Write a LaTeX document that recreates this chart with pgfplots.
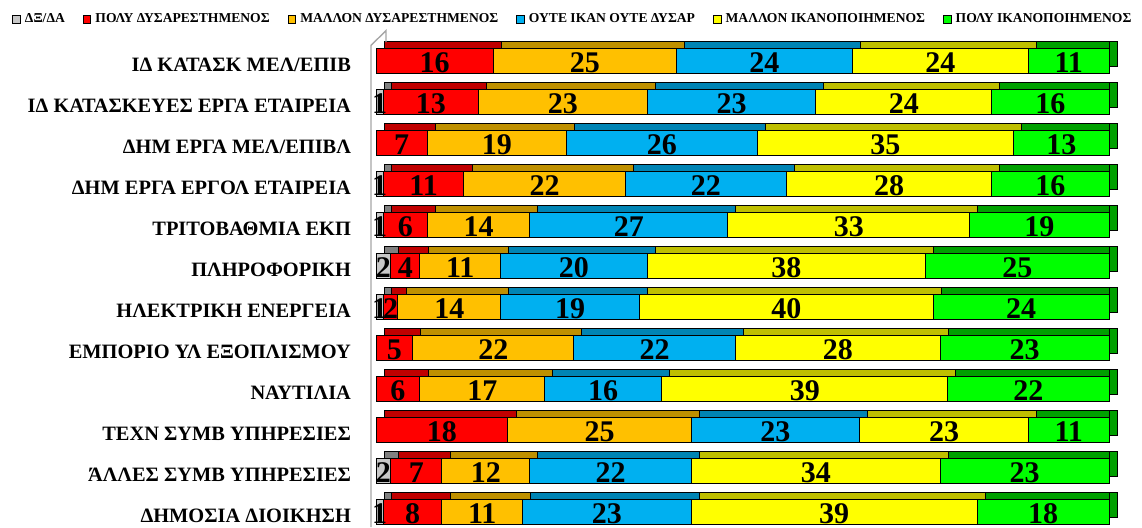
\documentclass[border=0pt]{standalone}
\usepackage{fontspec}
\setmainfont{Liberation Serif}
\usepackage{pgfplots}
\usepackage{pgfplotstable}
\pgfplotsset{compat=1.18}

% front / top colours
\definecolor{cdk}{HTML}{C8C8C8}\definecolor{cdkT}{HTML}{808080}
\definecolor{cp1}{HTML}{FF0000}\definecolor{cp1T}{HTML}{C00000}
\definecolor{cp2}{HTML}{FFC000}\definecolor{cp2T}{HTML}{BF9000}
\definecolor{cp3}{HTML}{00B0F0}\definecolor{cp3T}{HTML}{0084B4}
\definecolor{cp4}{HTML}{FFFF00}\definecolor{cp4T}{HTML}{BFBF00}
\definecolor{cp5}{HTML}{00FF00}\definecolor{cp5T}{HTML}{00A000}

% dk = ΔΞ/ΔΑ, p1..p5 = πολύ δυσαρ. ... πολύ ικανοπ.
\pgfplotstableread{
y  dk p1 p2 p3 p4 p5
12 0  16 25 24 24 11
11 1  13 23 23 24 16
10 0  7  19 26 35 13
9  1  11 22 22 28 16
8  1  6  14 27 33 19
7  2  4  11 20 38 25
6  1  2  14 19 40 24
5  0  5  22 22 28 23
4  0  6  17 16 39 22
3  0  18 25 23 23 11
2  2  7  12 22 34 23
1  1  8  11 23 39 18
}\data

\pgfplotsset{
  base/.style={
    at={(188pt,0pt)}, anchor=south west,
    x=3.665pt, y=20.48pt,
    xmin=0, xmax=100, ymin=0.6216, ymax=13.489,
    axis line style={draw=none}, tick style={draw=none},
    xtick=\empty, ytick=\empty, clip=false,
  },
  seg/.style={draw=black, line width=0.5pt, fill=#1},
  num/.style={draw=none, mark=none, forget plot, point meta=explicit,
    /pgf/number format/assume math mode=true,
    nodes near coords={\pgfmathfloatifflags{\pgfplotspointmeta}{0}{}{\pgfmathprintnumber{\pgfplotspointmeta}}},
    every node near coord/.append style={anchor=center, yshift=-1pt, inner sep=0pt,
      font=\fontsize{15}{15}\selectfont\bfseries}},
  legsq/.style={legend image code/.code={\draw[draw=black, line width=0.5pt, fill=#1] (0pt,-1.6pt) rectangle (3.8pt,2.2pt);}},
}

\begin{document}
\begin{tikzpicture}
\useasboundingbox (0,0) rectangle (571pt,263.5pt);

% top faces
\begin{axis}[base, xbar stacked, bar width=3.5pt, bar shift=8pt]
\addplot[draw=none, fill=none] table[x expr=1.1, y=y]{\data};
\addplot[seg=cdkT] table[x=dk, y=y]{\data};
\addplot[seg=cp1T] table[x=p1, y=y]{\data};
\addplot[seg=cp2T] table[x=p2, y=y]{\data};
\addplot[seg=cp3T] table[x=p3, y=y]{\data};
\addplot[seg=cp4T] table[x=p4, y=y]{\data};
\addplot[seg=cp5T] table[x=p5, y=y]{\data};
\end{axis}

% right side faces
\begin{axis}[base, xbar stacked, bar width=12.5pt, bar shift=3.5pt]
\addplot[draw=none, fill=none] table[x expr=100, y=y]{\data};
\addplot[seg=cp5T] table[x expr=1.1, y=y]{\data};
\end{axis}

% front faces
\begin{axis}[base, xbar stacked, bar width=12.5pt]
\addplot[seg=cdk] table[x=dk, y=y]{\data};
\addplot[seg=cp1] table[x=p1, y=y]{\data};
\addplot[seg=cp2] table[x=p2, y=y]{\data};
\addplot[seg=cp3] table[x=p3, y=y]{\data};
\addplot[seg=cp4] table[x=p4, y=y]{\data};
\addplot[seg=cp5] table[x=p5, y=y]{\data};
\end{axis}

% wall, values, category names, legend
\begin{axis}[base,
  ytick={12,11,10,9,8,7,6,5,4,3,2,1},
  yticklabels={ΙΔ ΚΑΤΑΣΚ ΜΕΛ/ΕΠΙΒ, ΙΔ ΚΑΤΑΣΚΕΥΕΣ ΕΡΓΑ ΕΤΑΙΡΕΙΑ, ΔΗΜ ΕΡΓΑ ΜΕΛ/ΕΠΙΒΛ,
    ΔΗΜ ΕΡΓΑ ΕΡΓΟΛ ΕΤΑΙΡΕΙΑ, ΤΡΙΤΟΒΑΘΜΙΑ ΕΚΠ, ΠΛΗΡΟΦΟΡΙΚΗ, ΗΛΕΚΤΡΙΚΗ ΕΝΕΡΓΕΙΑ,
    ΕΜΠΟΡΙΟ ΥΛ ΕΞΟΠΛΙΣΜΟΥ, ΝΑΥΤΙΛΙΑ, ΤΕΧΝ ΣΥΜΒ ΥΠΗΡΕΣΙΕΣ, ΆΛΛΕΣ ΣΥΜΒ ΥΠΗΡΕΣΙΕΣ,
    ΔΗΜΟΣΙΑ ΔΙΟΙΚΗΣΗ},
  yticklabel style={font=\fontsize{10.2}{11}\selectfont\bfseries, xshift=-9pt, yshift=-2pt},
  legend columns=6,
  legend style={at={(-0.4966,0.962)}, anchor=west, draw=none, fill=none, inner sep=0pt,
    font=\fontsize{6.8}{7}\selectfont\bfseries,
    /tikz/every even column/.append style={column sep=7pt}},
  legend cell align=left,
]
\draw[black!35, line width=0.7pt] ([xshift=-2.5pt]axis cs:0,0.6216) -- ([xshift=-2.5pt]axis cs:0,12.38)
  -- ([xshift=5pt]axis cs:0,12.74) -- ([xshift=5pt]axis cs:0,12.46);
\addplot[num] table[x expr=\thisrow{dk}/2, y=y, meta=dk]{\data};
\addplot[num] table[x expr=\thisrow{dk}+\thisrow{p1}/2, y=y, meta=p1]{\data};
\addplot[num] table[x expr=\thisrow{dk}+\thisrow{p1}+\thisrow{p2}/2, y=y, meta=p2]{\data};
\addplot[num] table[x expr=\thisrow{dk}+\thisrow{p1}+\thisrow{p2}+\thisrow{p3}/2, y=y, meta=p3]{\data};
\addplot[num] table[x expr=\thisrow{dk}+\thisrow{p1}+\thisrow{p2}+\thisrow{p3}+\thisrow{p4}/2, y=y, meta=p4]{\data};
\addplot[num] table[x expr=\thisrow{dk}+\thisrow{p1}+\thisrow{p2}+\thisrow{p3}+\thisrow{p4}+\thisrow{p5}/2, y=y, meta=p5]{\data};
\addlegendimage{legsq=cdk}\addlegendentry{ΔΞ/ΔΑ}
\addlegendimage{legsq=cp1}\addlegendentry{ΠΟΛΥ ΔΥΣΑΡΕΣΤΗΜΕΝΟΣ}
\addlegendimage{legsq=cp2}\addlegendentry{ΜΑΛΛΟΝ ΔΥΣΑΡΕΣΤΗΜΕΝΟΣ}
\addlegendimage{legsq=cp3}\addlegendentry{ΟΥΤΕ ΙΚΑΝ ΟΥΤΕ ΔΥΣΑΡ}
\addlegendimage{legsq=cp4}\addlegendentry{ΜΑΛΛΟΝ ΙΚΑΝΟΠΟΙΗΜΕΝΟΣ}
\addlegendimage{legsq=cp5}\addlegendentry{ΠΟΛΥ ΙΚΑΝΟΠΟΙΗΜΕΝΟΣ}
\end{axis}
\end{tikzpicture}
\end{document}
